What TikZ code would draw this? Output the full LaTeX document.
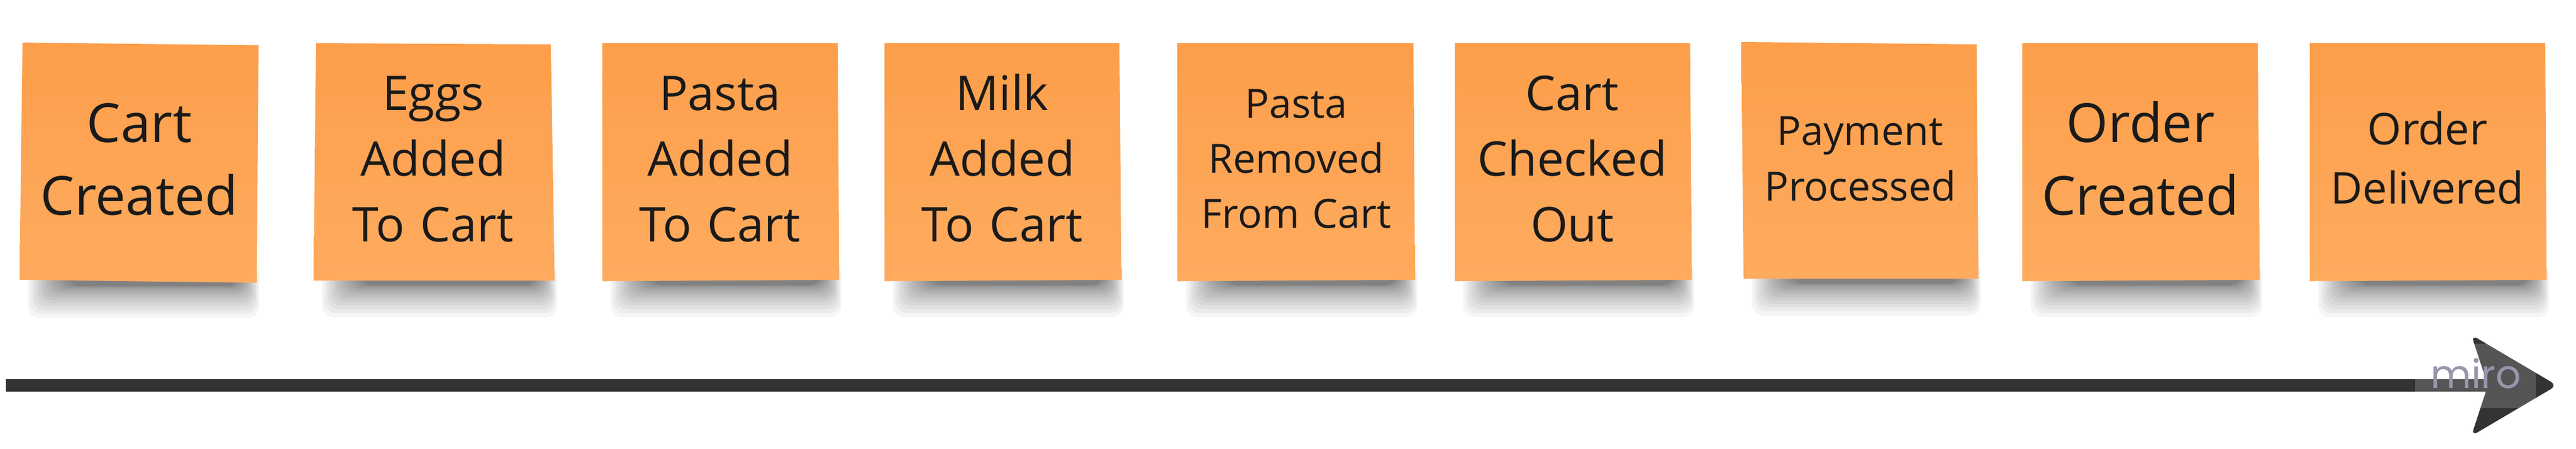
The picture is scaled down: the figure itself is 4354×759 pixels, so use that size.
\documentclass[tikz,border=0pt]{standalone}
\usepackage{fontspec}
\setmainfont{Open Sans}
\newfontfamily\miroFont{Poppins}
\definecolor{notetop}{RGB}{252,158,74}
\definecolor{notebot}{RGB}{254,171,95}
\definecolor{inkdark}{RGB}{26,26,26}
\definecolor{linegray}{RGB}{51,51,51}
\definecolor{mirotext}{RGB}{152,150,172}
\tikzset{
  notetext/.style={inner sep=0pt, anchor=base, text=inkdark, align=center, text width=100pt},
  bigtext/.style={notetext, font=\fontsize{22.75}{30.6}\selectfont},
  midtext/.style={notetext, font=\fontsize{20.2}{27.8}\selectfont},
  smalltext/.style={notetext, font=\fontsize{17}{23.3}\selectfont},
  deltext/.style={notetext, font=\fontsize{18.45}{25}\selectfont},
  paper/.style={top color=notetop, bottom color=notebot},
  shadowlayer/.style={fill=black, opacity=0.04, rounded corners=5pt},
  timeline/.style={draw=linegray, line width=5.25pt},
  headfill/.style={fill=linegray, rounded corners=3pt},
  wmbox/.style={fill=white, opacity=0.17},
  wmtext/.style={inner sep=0pt, anchor=base, text=mirotext, font=\miroFont\fontsize{16.7}{20}\selectfont},
}
\newcommand\notepaper[8]{%
  \foreach \k in {0,...,15}{%
    \path[shadowlayer] ({#7+14+4.6*\k},{(#6+#8)/2-30}) rectangle ({#5+4-2.4*\k},{(#6+#8)/2+8+54*((15-\k)/15)^2});
  }%
  \path[paper] (#1,#2) -- (#3,#4) -- (#5,#6) -- (#7,#8) -- cycle;
}
\begin{document}
\begin{tikzpicture}[x=0.25pt, y=-0.25pt]
\fill[white] (0,0) rectangle (4354,759);
\useasboundingbox (0,0) rectangle (4354,759);

% sticky notes
\notepaper{38}{72}{437}{76.5}{434}{478}{33}{473}
\notepaper{534}{73}{931}{75}{937.5}{474.3}{530}{474.3}
\notepaper{1018}{73}{1416}{73}{1418.4}{473}{1018}{475.3}
\notepaper{1495}{73}{1892}{73}{1895.4}{473}{1495}{475.3}
\notepaper{1990.4}{73}{2389}{73}{2391.6}{473}{1990.4}{475.3}
\notepaper{2459}{73}{2856.5}{73}{2859.7}{473}{2459}{475.3}
\notepaper{2943}{71}{3341}{75}{3344}{471.4}{2947}{471.4}
\notepaper{3418}{73}{3816}{73}{3819.5}{473}{3418}{475.3}
\notepaper{3904}{73}{4302}{73}{4304.3}{473}{3904}{475.3}

% texts
\node[bigtext]   (t1) at (235.5,240.6) {Cart\\Created};
\node[midtext]   (t2) at (732,186.3)   {Eggs\\Added\\To Cart};
\node[midtext]   (t3) at (1217,186.3)  {Pasta\\Added\\To Cart};
\node[midtext]   (t4) at (1694,186.3)  {Milk\\Added\\To Cart};
\node[smalltext] (t5) at (2191,199.4)  {Pasta\\Removed\\From Cart};
\node[midtext]   (t6) at (2657.5,186.3) {Cart\\Checked\\Out};
\node[smalltext] (t7) at (3144,245.9)  {Payment\\Processed};
\node[bigtext]   (t8) at (3618,240.6)  {Order\\Created};
\node[deltext]   (t9) at (4103,244.4)  {Order\\Delivered};

% timeline arrow
\coordinate (tlstart) at (10,651.5);
\coordinate (tlend) at (4205,651.5);
\draw[timeline] (tlstart) -- (tlend);
\path[headfill] (tlend) -- (4177,566) -- (4322,651.5) -- (4177,737) -- cycle;

% watermark
\fill[wmbox] (4082,581) rectangle (4286,690);
\node[wmtext] (wm) at (4185,656.7) {miro};
\end{tikzpicture}
\end{document}
